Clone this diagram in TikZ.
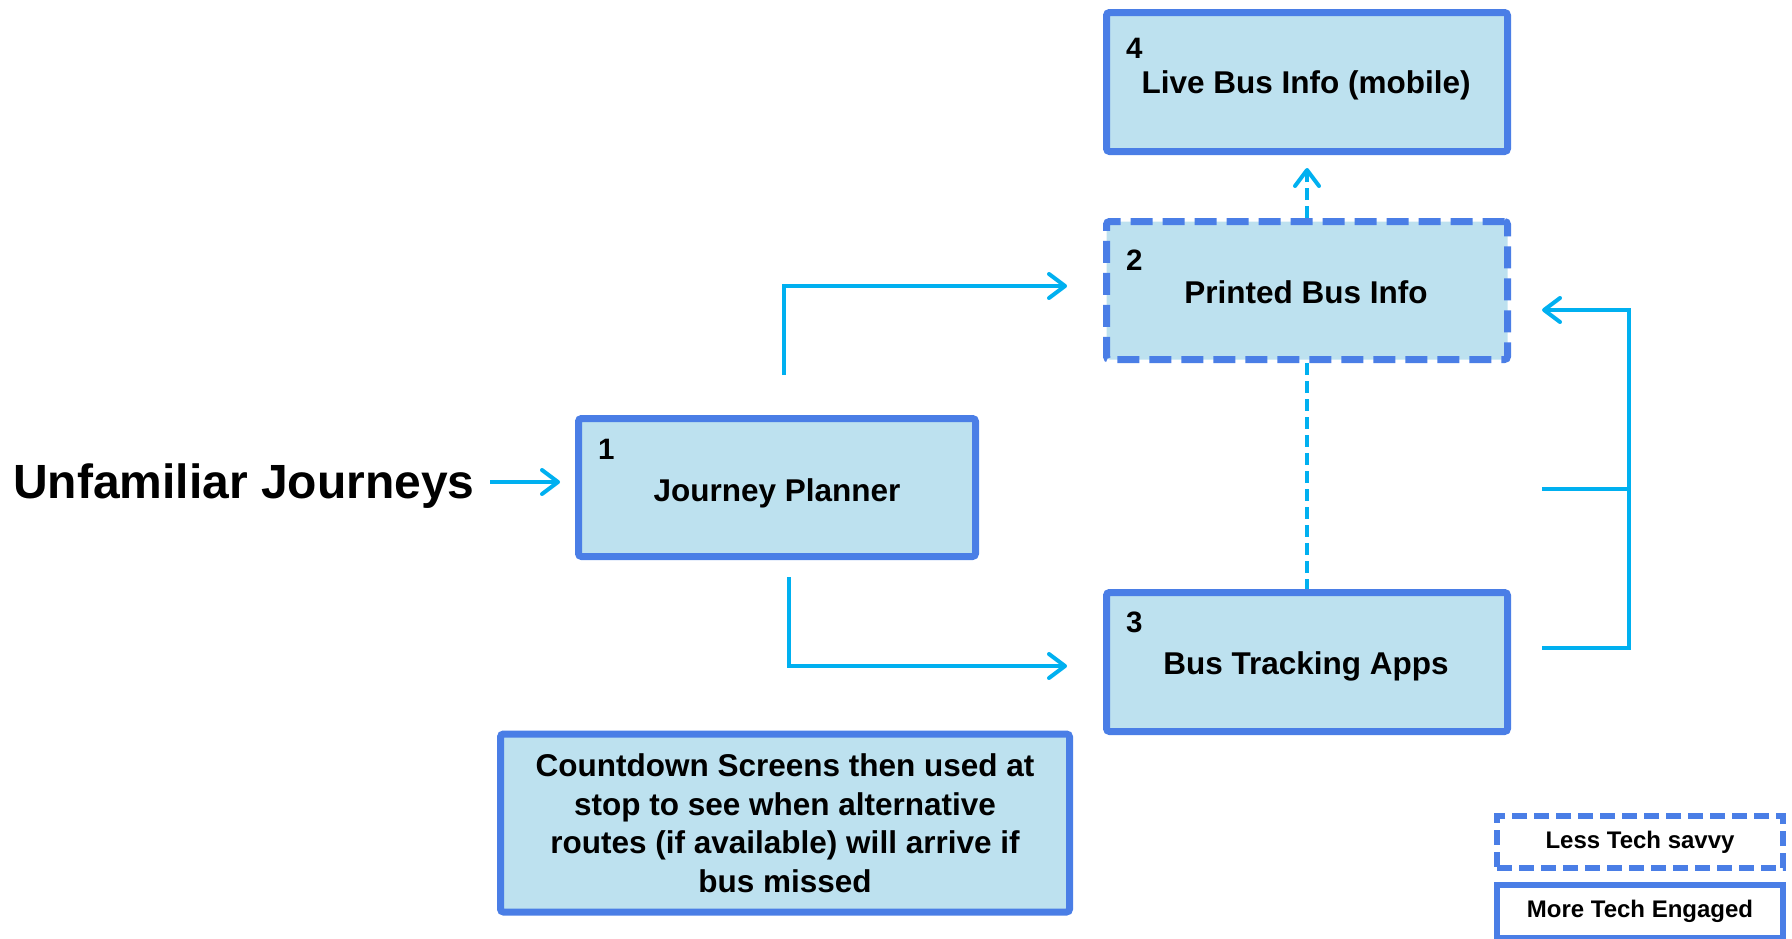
\documentclass[tikz,border=0pt]{standalone}
\usepackage{fontspec}
\setmainfont{Liberation Sans}
\usetikzlibrary{arrows.meta}
\definecolor{fillc}{HTML}{BDE1EF}
\definecolor{bordc}{HTML}{4A7EE6}
\definecolor{connc}{HTML}{00B0F0}
\begin{document}
\begin{tikzpicture}[x=1pt,y=-1pt,
  box/.style={draw=bordc, fill=fillc, line width=7pt, rounded corners=3pt, inner sep=0pt, outer sep=3.5pt},
  dbox/.style={box, dash pattern=on 22pt off 10pt},
  legbox/.style={draw=bordc, fill=white, line width=6pt, inner sep=0pt, outer sep=3pt, minimum width=286pt,
     font=\fontsize{24}{28}\selectfont\bfseries},
  numtxt/.style={inner sep=0pt, anchor=base west, font=\fontsize{29.5}{32}\selectfont\bfseries},
  lbltxt/.style={inner sep=0pt, anchor=base, font=\fontsize{31.5}{36}\selectfont\bfseries},
  conn/.style={draw=connc, line width=4pt},
  dconn/.style={conn, dash pattern=on 12pt off 6pt},
  arr/.style={-{Straight Barb[length=16pt,width=24pt,round]}}
]
\useasboundingbox (0,0) rectangle (1792,938);

% title
\node[inner sep=0pt, anchor=base west, font=\fontsize{48}{56}\selectfont\bfseries] (title) at (13,498) {Unfamiliar Journeys};

% boxes
\node[box, minimum width=401pt, minimum height=139pt] (b4) at (1307,82) {};
\node[numtxt] (n4) at (1126,58) {4};
\node[lbltxt] (l4) at (1306,93) {Live Bus Info (mobile)};

\node[dbox, minimum width=401pt, minimum height=138pt] (b2) at (1307,290.5) {};
\node[numtxt] (n2) at (1126,270) {2};
\node[lbltxt] (l2) at (1306,303) {Printed Bus Info};

\node[box, minimum width=397pt, minimum height=138pt] (b1) at (777,487.5) {};
\node[numtxt] (n1) at (598,459) {1};
\node[lbltxt] (l1) at (777,501) {Journey Planner};

\node[box, minimum width=401pt, minimum height=139pt] (b3) at (1307,662) {};
\node[numtxt] (n3) at (1126,632) {3};
\node[lbltxt] (l3) at (1306,674) {Bus Tracking Apps};

\node[box, minimum width=569pt, minimum height=178pt, align=center,
      font=\fontsize{31.5}{38.5}\selectfont\bfseries] (cd) at (785,823)
  {Countdown Screens then used at\\stop to see when alternative\\routes (if available) will arrive if\\bus missed};

% legend
\node[legbox, dash pattern=on 15pt off 7pt, minimum height=52pt] (less) at (1640,842) {Less Tech savvy};
\node[legbox, minimum height=53pt] (more) at (1640,911) {More Tech Engaged};

% connectors
\coordinate (u0) at (490,482);
\coordinate (u1) at (560,482);
\draw[conn, arr] (u0) -- (u1);

\coordinate (t0) at (784,375);
\coordinate (t1) at (1067,286);
\draw[conn, arr] (t0) |- (t1);

\coordinate (s0) at (789,577);
\coordinate (s1) at (1067,666);
\draw[conn, arr] (s0) |- (s1);

\draw[dconn] (b2.south) -- (b3.north);
\draw[dconn, arr] (b2.north) -- ([yshift=-13pt]b4.south);

\coordinate (r1) at (1542,648);
\coordinate (rc1) at (1629,648);
\coordinate (rc2) at (1629,310);
\coordinate (r2) at (1542,310);
\coordinate (rm) at (1542,489);
\coordinate (rmc) at (1629,489);
\draw[conn, arr] (r1) -- (rc1) -- (rc2) -- (r2);
\draw[conn] (rm) -- (rmc);
\end{tikzpicture}
\end{document}
